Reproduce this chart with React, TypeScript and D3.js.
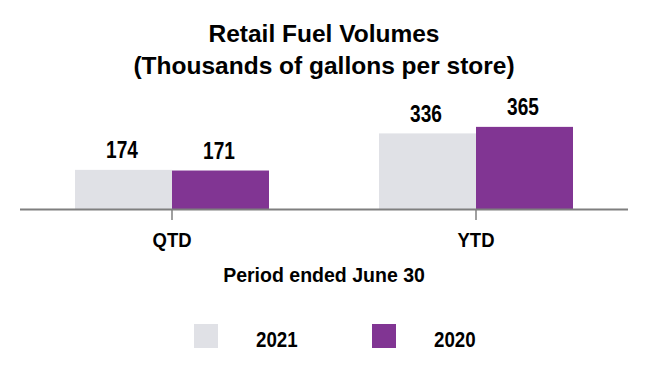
import React from "react";
import * as d3 from "d3";

const categories = ["QTD", "YTD"];
const seriesNames = ["2021", "2020"];
const values2021 = [174, 336];
const values2020 = [171, 365];
const colors = ["#e0e1e6", "#813593"];

const W = 648;
const H = 380;
const FONT = "'Liberation Sans', Arial, sans-serif";

function T({ x, y, size, k = 1, anchor = "middle", children }: any) {
  return (
    <text
      transform={`translate(${x},${y}) scale(${k},1)`}
      textAnchor={anchor}
      fontSize={size}
      fill="#000"
    >
      {children}
    </text>
  );
}

export default function App() {
  const x = d3.scaleBand<string>().domain(categories).range([20, 628]).padding(0);
  const inner = d3
    .scaleBand<string>()
    .domain(seriesNames)
    .range([55, x.bandwidth() - 55])
    .padding(0);
  const y = d3.scaleLinear().domain([0, 400]).range([209, 119]);
  const series = [values2021, values2020];

  return (
    <div style={{ margin: -8 }}>
      <svg width={W} height={H} style={{ display: "block", background: "#fff" }} fontFamily={FONT} fontWeight="bold">
        <T x={324} y={42} size={24.5}>Retail Fuel Volumes</T>
        <T x={324} y={74} size={24.5}>(Thousands of gallons per store)</T>
        {categories.map((c, ci) => (
          <g key={c} transform={`translate(${x(c)},0)`}>
            {seriesNames.map((s, si) => {
              const v = series[si][ci];
              const bx = inner(s)!;
              return (
                <g key={s}>
                  <rect x={bx} y={y(v)} width={inner.bandwidth()} height={y(0) - y(v)} fill={colors[si]} />
                  <T x={bx + inner.bandwidth() / 2 - 1.5} y={y(v) - 11.5} size={23} k={0.83}>
                    {v}
                  </T>
                </g>
              );
            })}
          </g>
        ))}
        <line x1={20} x2={628} y1={209.5} y2={209.5} stroke="#7f7f7f" strokeWidth={2} />
        {categories.map((c) => (
          <g key={c}>
            <line x1={x(c)! + x.bandwidth() / 2} x2={x(c)! + x.bandwidth() / 2} y1={210} y2={220} stroke="#7f7f7f" strokeWidth={1.5} />
            <T x={x(c)! + x.bandwidth() / 2} y={247} size={21} k={0.88}>{c}</T>
          </g>
        ))}
        <T x={324} y={281.5} size={21} k={0.93}>Period ended June 30</T>
        {seriesNames.map((s, i) => {
          const lx = i === 0 ? 194 : 372;
          return (
            <g key={s}>
              <rect x={lx} y={324} width={24} height={24} fill={colors[i]} />
              <T x={lx + 62} y={347} size={22} k={0.85} anchor="start">{s}</T>
            </g>
          );
        })}
      </svg>
    </div>
  );
}
